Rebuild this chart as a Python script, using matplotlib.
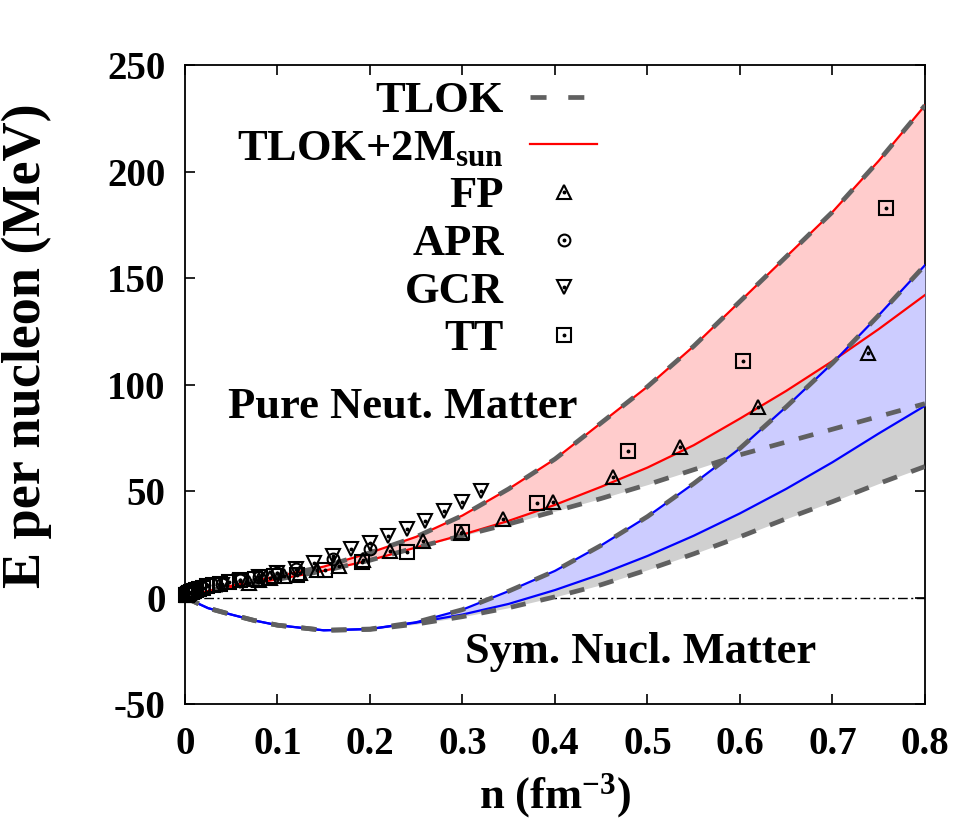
"""Energia por nucleon: bandas TLOK para materia de neutrons e simetrica."""

import matplotlib

matplotlib.use("Agg")
import matplotlib.pyplot as plt
from matplotlib.lines import Line2D

plt.rcParams["font.family"] = ["Liberation Serif", "DejaVu Serif"]
plt.rcParams["font.weight"] = "bold"
plt.rcParams["axes.labelweight"] = "bold"
plt.rcParams["axes.unicode_minus"] = False
plt.rcParams["mathtext.fontset"] = "custom"
plt.rcParams["mathtext.rm"] = "Liberation Serif:bold"
plt.rcParams["mathtext.it"] = "Liberation Serif:bold"
plt.rcParams["mathtext.bf"] = "Liberation Serif:bold"

# densidade (fm^-3)
n_grid = [0, 0.025, 0.05, 0.075, 0.1, 0.15, 0.2, 0.25, 0.3, 0.35, 0.4,
          0.45, 0.5, 0.55, 0.6, 0.65, 0.7, 0.75, 0.8]

# materia pura de neutrons (MeV)
pnm_upper = [0, 3.0, 5.5, 7.8, 10.0, 14.5, 21.0, 28.5, 38.5, 51, 65,
             82, 99, 118, 139, 160, 181, 205, 231]
pnm_lower_2m = [0, 3.0, 5.0, 6.8, 8.5, 12.5, 17.5, 23.5, 29.5, 36, 43.5,
                52, 61, 71.5, 84, 97, 111, 126, 142]
pnm_lower = [0, 3.0, 5.0, 6.8, 8.5, 12.5, 17.5, 23.5, 29.0, 34.5, 40.5,
             46.5, 53, 60, 67, 73, 79, 85, 91]

# materia nuclear simetrica (MeV)
snm_upper = [0, -5, -8, -10.8, -13, -15.4, -14.8, -11.6, -5.7, 3, 12.5,
             24.5, 38, 53.5, 70, 89.5, 110, 132.5, 156]
snm_lower_2m = [0, -5, -8, -10.8, -13, -15.4, -14.8, -11.8, -8, -3, 3.5,
                11, 19.5, 29, 39.5, 51, 63.5, 77, 90]
snm_lower = [0, -5, -8, -10.8, -13, -15.4, -15, -12.5, -9, -4.8, 0.3,
             6, 13, 20.5, 28.5, 37, 45, 53.5, 61.5]

# calculos de referencia (PNM)
fp_n = [0.069, 0.080, 0.092, 0.107, 0.124, 0.143, 0.166, 0.192, 0.222,
        0.257, 0.298, 0.344, 0.398, 0.463, 0.535, 0.62, 0.738]
fp_e = [7.0, 8.0, 9.0, 10.0, 11.5, 13.0, 15.0, 17.5, 21.7, 26.4, 30.5,
        36.8, 44.8, 56.6, 70.7, 89.6, 114.6]

apr_n = [0.02, 0.04, 0.06, 0.08, 0.10, 0.12, 0.16, 0.20]
apr_e = [4.5, 6.5, 8.0, 9.7, 11.3, 13.3, 17.9, 22.9]

gcr_n = [0.04, 0.06, 0.08, 0.10, 0.12, 0.14, 0.16, 0.18, 0.20, 0.22,
         0.24, 0.26, 0.28, 0.30, 0.32]
gcr_e = [6.0, 7.8, 9.6, 11.5, 13.5, 16.0, 19.3, 22.6, 25.5, 28.8, 32.0,
         36.0, 40.6, 45.0, 50.0]

tt_n = [0.758, 0.603, 0.479, 0.381, 0.30, 0.24, 0.191, 0.151, 0.121,
        0.096, 0.076, 0.060, 0.048, 0.038, 0.030, 0.024, 0.019, 0.015,
        0.012, 0.0095, 0.0076, 0.006, 0.0048, 0.0038, 0.003, 0.0024,
        0.0019, 0.0015]
tt_e = [183, 111, 68.8, 44.3, 30.7, 21.2, 16.5, 12.7, 10.4, 9.9, 8.9,
        8.0, 7.2, 6.5, 5.8, 5.2, 4.6, 4.1, 3.6, 3.2, 2.8, 2.5, 2.2, 1.9,
        1.6, 1.4, 1.2, 1.0]

CINZA = "#606060"
TRACO = (3.2, 3.2)
FONTE = 32


def pontos(ax, x, y, marker, ms):
    a = ax.plot(x, y, ls="none", marker=marker, ms=ms, mfc="none",
                mec="black", mew=1.5, zorder=6, clip_on=False)[0]
    b = ax.plot(x, y, ls="none", marker="o", ms=1.8, mfc="black",
                mec="black", zorder=7, clip_on=False)[0]
    return a, b


fig = plt.figure(figsize=(9.64, 8.26), dpi=100)
ax = fig.add_axes([0.1919, 0.1477, 0.7676, 0.7736])

ax.axhline(0, color="black", lw=1.0, dashes=(7, 2.5, 1.5, 2.5), zorder=0.5)

ax.fill_between(n_grid, pnm_lower, pnm_upper, color="#d0d0d0", lw=0, zorder=1)
ax.fill_between(n_grid, snm_lower, snm_upper, color="#d0d0d0", lw=0, zorder=1)
ax.fill_between(n_grid, pnm_lower_2m, pnm_upper, color="#ffcccc", lw=0, zorder=2)
ax.fill_between(n_grid, snm_lower_2m, snm_upper, color="#ccccff", lw=0, zorder=3)

for serie in (pnm_upper, pnm_lower_2m):
    ax.plot(n_grid, serie, color="red", lw=1.6, zorder=4)
for serie in (snm_upper, snm_lower_2m):
    ax.plot(n_grid, serie, color="blue", lw=1.6, zorder=4)
for serie in (pnm_upper, pnm_lower, snm_upper, snm_lower):
    ax.plot(n_grid, serie, color=CINZA, lw=3.4, dashes=TRACO, zorder=5)

h_fp = pontos(ax, fp_n, fp_e, "^", 9.5)
h_apr = pontos(ax, apr_n, apr_e, "o", 8.5)
h_gcr = pontos(ax, gcr_n, gcr_e, "v", 9.5)
h_tt = pontos(ax, tt_n, tt_e, "s", 10)

h_tlok = Line2D([], [], color=CINZA, lw=3.4, dashes=(3.4, 4.6))
h_2m = Line2D([], [], color="red", lw=1.6)
ax.legend(
    [h_tlok, h_2m, h_fp, h_apr, h_gcr, h_tt],
    ["TLOK", r"TLOK+2M$_{\rm sun}$", "FP", "APR", "GCR", "TT"],
    loc="upper right", bbox_to_anchor=(0.557, 0.975), frameon=False,
    markerfirst=False, fontsize=FONTE, handlelength=1.5, handletextpad=0.6,
    labelspacing=0.17, borderpad=0, borderaxespad=0,
)

ax.text(0.046, 89.6, "Pure Neut. Matter", fontsize=FONTE, ha="left", va="center")
ax.text(0.303, -25.5, "Sym. Nucl. Matter", fontsize=FONTE, ha="left", va="center")

ax.set_xlim(0, 0.8)
ax.set_ylim(-50, 250)
ax.set_xticks([0, 0.1, 0.2, 0.3, 0.4, 0.5, 0.6, 0.7, 0.8])
ax.set_xticklabels(["0", "0.1", "0.2", "0.3", "0.4", "0.5", "0.6", "0.7", "0.8"])
ax.set_yticks([-50, 0, 50, 100, 150, 200, 250])
ax.tick_params(direction="in", length=7, width=1.2, top=True, right=True,
               labelsize=28)
ax.tick_params(axis="x", pad=16)
ax.tick_params(axis="y", pad=14)
for spine in ax.spines.values():
    spine.set_linewidth(1.3)

ax.set_xlabel(r"n (fm$^{-3}$)", fontsize=FONTE, labelpad=6)
ax.set_ylabel("E per nucleon (MeV)", fontsize=39)
ax.yaxis.set_label_coords(-0.18, 0.56)

fig.savefig("out.png", dpi=100)
